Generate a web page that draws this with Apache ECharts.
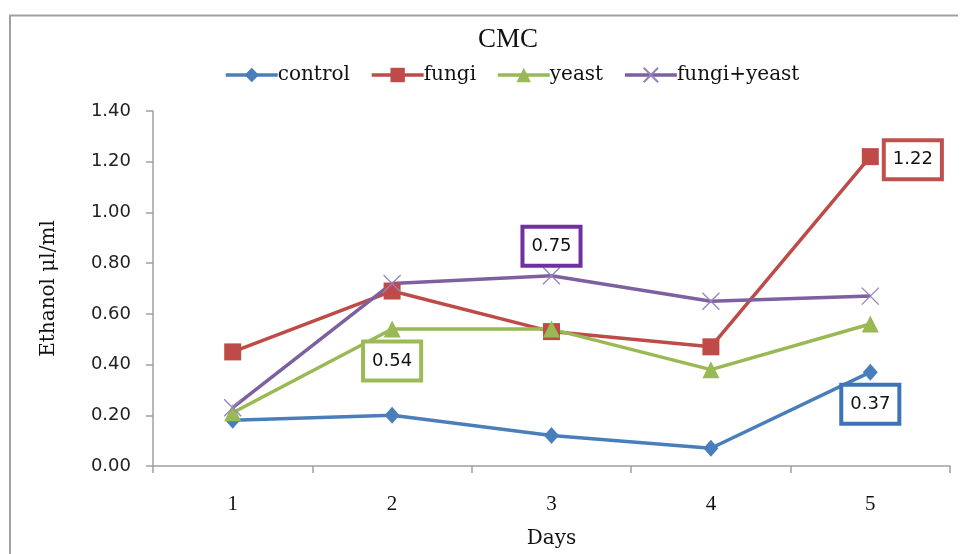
<!DOCTYPE html>
<html><head><meta charset="utf-8">
<script src="https://cdn.jsdelivr.net/npm/echarts@6/dist/echarts.min.js"></script>
<style>html,body{margin:0;padding:0;background:#fff}#c{width:963px;height:554px}</style>
</head><body><div id="c"></div>
<script>
const days = ['1', '2', '3', '4', '5'];
const control = [0.18, 0.20, 0.12, 0.07, 0.37];
const fungi = [0.45, 0.69, 0.53, 0.47, 1.22];
const yeast = [0.21, 0.54, 0.54, 0.38, 0.56];
const fungiYeast = [0.23, 0.72, 0.75, 0.65, 0.67];
const seriesNames = ['control', 'fungi', 'yeast', 'fungi+yeast'];
const yMin = 0, yMax = 1.4, yStep = 0.2;

const serifFont = '"DejaVu Serif", serif';
const sansFont = '"DejaVu Sans", sans-serif';

function labelled(values, idx, labelOpt) {
  return values.map((v, i) => i === idx ? {
    value: v,
    label: Object.assign({
      show: true,
      formatter: (p) => p.value.toFixed(2),
      fontFamily: sansFont, fontSize: 18, color: '#111',
      backgroundColor: '#fff', borderWidth: 4,
      padding: [7, 7, 6, 7], lineHeight: 22
    }, labelOpt)
  } : v);
}

const chart = echarts.init(document.getElementById('c'), null, {renderer: 'canvas'});
chart.setOption({
  animation: false,
  backgroundColor: '#fff',
  title: {
    text: 'CMC', left: 503, top: 21, textAlign: 'center',
    textStyle: {fontFamily: '"Liberation Serif", serif', fontSize: 27, fontWeight: 'normal', color: '#111'}
  },
  legend: {
    left: 219, top: 60, itemWidth: 52, itemHeight: 18, itemGap: 20,
    lineStyle: {width: 3.5},
    textStyle: {fontFamily: serifFont, fontSize: 20, color: '#111', padding: [0, 0, 0, -5]},
    data: seriesNames
  },
  graphic: [
    {type: 'polyline', shape: {points: [[10, 554], [10, 15.5], [958, 15.5]]}, style: {stroke: '#a0a0a0', lineWidth: 2, fill: null}}
  ],
  grid: {left: 153, top: 111, width: 797, height: 356, containLabel: false},
  xAxis: {
    type: 'category', data: days, boundaryGap: true,
    name: 'Days', nameLocation: 'middle', nameGap: 63,
    nameTextStyle: {fontFamily: serifFont, fontSize: 20, color: '#111'},
    axisLine: {lineStyle: {color: '#a0a0a0', width: 1.5}},
    axisTick: {show: true, inside: false, length: 7, alignWithLabel: false, lineStyle: {color: '#a0a0a0', width: 1.5}},
    axisLabel: {margin: 28, fontFamily: '"Liberation Serif", serif', fontSize: 21, color: '#111'},
    splitLine: {show: false}
  },
  yAxis: {
    type: 'value', min: yMin, max: yMax, interval: yStep,
    name: 'Ethanol μl/ml', nameLocation: 'middle', nameGap: 94, nameRotate: 90,
    nameTextStyle: {fontFamily: serifFont, fontSize: 20, color: '#111'},
    axisLine: {show: true, lineStyle: {color: '#a0a0a0', width: 1.5}},
    axisTick: {show: true, length: 7, lineStyle: {color: '#a0a0a0', width: 1.5}},
    axisLabel: {margin: 22, fontFamily: sansFont, fontSize: 18, color: '#222', formatter: (v) => v.toFixed(2)},
    splitLine: {show: false}
  },
  series: [
    {
      name: 'control', type: 'line', symbol: 'diamond', symbolSize: [15, 17],
      color: '#4a7ebb', lineStyle: {width: 3.5, color: '#4a7ebb'},
      itemStyle: {color: '#4a7ebb'},
      data: labelled(control, 4, {position: 'bottom', distance: 6, borderColor: '#3d74b9'})
    },
    {
      name: 'fungi', type: 'line', symbol: 'rect', symbolSize: 17,
      color: '#be4b48', lineStyle: {width: 3.5, color: '#be4b48'},
      itemStyle: {color: '#be4b48'},
      data: labelled(fungi, 4, {position: 'right', distance: 7, offset: [0, 3], borderColor: '#c0504d'})
    },
    {
      name: 'yeast', type: 'line', symbol: 'triangle', symbolSize: 17,
      color: '#98b954', lineStyle: {width: 3.5, color: '#98b954'},
      itemStyle: {color: '#98b954'},
      data: labelled(yeast, 1, {position: 'bottom', distance: 6, borderColor: '#9bbb59'})
    },
    {
      name: 'fungi+yeast', type: 'line', symbol: 'path://M0,0L10,10M10,0L0,10', symbolSize: 17,
      color: '#7d60a0', lineStyle: {width: 3.5, color: '#7d60a0'},
      itemStyle: {color: '#7d60a0', borderColor: '#9780c0', borderWidth: 1.3},
      data: labelled(fungiYeast, 2, {position: 'top', distance: 3, borderColor: '#7030a0'})
    }
  ]
});
</script></body></html>
